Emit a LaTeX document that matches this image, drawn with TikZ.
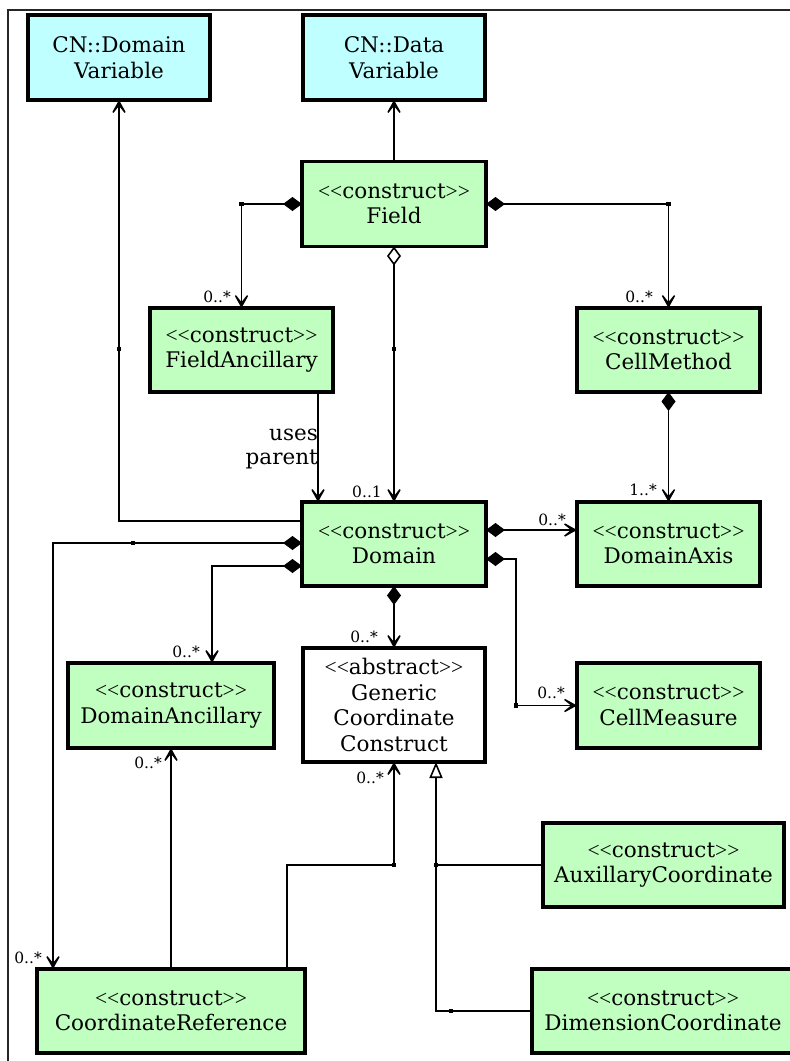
\documentclass[tikz,border=0pt]{standalone}
\usepackage{fontspec}
\setmainfont{DejaVu Serif}
\newfontfamily\ltfont{Liberation Serif}
\usetikzlibrary{arrows.meta}
\definecolor{cyanfill}{RGB}{192,255,255}
\definecolor{greenfill}{RGB}{192,255,192}
\newcommand{\stereo}[1]{{\ltfont<\kern0pt<}#1{\ltfont>\kern0pt>}}
\newcommand{\sqmark}[1]{\fill[black] #1 ++(-2.4,-2.4) rectangle ++(4.8,4.8);}
\tikzset{
  cls/.style={draw=black, line width=3.4pt, inner sep=0pt, outer sep=0pt, align=center,
    font=\fontsize{21.5}{25.5}\selectfont},
  cnbox/.style={cls, fill=cyanfill},
  grbox/.style={cls, fill=greenfill},
  abbox/.style={cls, fill=white},
  conn/.style={line width=1.6pt, black},
  arr/.style={conn, -{Stealth[length=19pt,width=21pt,inset=13pt,line width=1.4pt]}},
  comp/.style={conn, {Diamond[length=19pt,width=14pt]}-{Stealth[length=19pt,width=21pt,inset=13pt,line width=1.4pt]}},
  aggr/.style={conn, {Diamond[open,length=19pt,width=14pt]}-{Stealth[length=19pt,width=21pt,inset=13pt,line width=1.4pt]}},
  gen/.style={conn, -{Triangle[open,length=16pt,width=13pt]}},
  mult/.style={inner sep=0pt, font=\fontsize{15.5}{17}\selectfont, anchor=base east},
}
\begin{document}
\begin{tikzpicture}[x=1pt,y=-1pt]
\useasboundingbox (0,0) rectangle (790,1061);
\clip (0,0) rectangle (790,1061);
% frame
\draw[line width=1.2pt, black!85] (8,1065) -- (8,10) -- (795,10);

% classes
\node[cnbox, minimum width=182pt, minimum height=85pt] (dvar) at (119,57.5) {CN::Domain\\Variable};
\node[cnbox, minimum width=182pt, minimum height=85pt] (datavar) at (394,57.5) {CN::Data\\Variable};
\node[grbox, minimum width=184pt, minimum height=85pt] (field) at (394,204) {\stereo{construct}\\Field};
\node[grbox, minimum width=183pt, minimum height=84pt] (fanc) at (241.5,350) {\stereo{construct}\\FieldAncillary};
\node[grbox, minimum width=183pt, minimum height=84pt] (cmeth) at (668.5,350) {\stereo{construct}\\CellMethod};
\node[grbox, minimum width=184pt, minimum height=84pt] (domain) at (394,544) {\stereo{construct}\\Domain};
\node[grbox, minimum width=183pt, minimum height=84pt] (daxis) at (668.5,544) {\stereo{construct}\\DomainAxis};
\node[grbox, minimum width=206pt, minimum height=85pt] (danc) at (171,705.5) {\stereo{construct}\\DomainAncillary};
\node[abbox, minimum width=182pt, minimum height=114pt] (generic) at (394,705) {\stereo{abstract}\\Generic\\Coordinate\\Construct};
\node[grbox, minimum width=183pt, minimum height=85pt] (cmeas) at (668.5,705.5) {\stereo{construct}\\CellMeasure};
\node[grbox, minimum width=241pt, minimum height=84pt] (aux) at (663.5,865) {\stereo{construct}\\AuxillaryCoordinate};
\node[grbox, minimum width=268pt, minimum height=84pt] (cref) at (171,1011) {\stereo{construct}\\CoordinateReference};
\node[grbox, minimum width=262pt, minimum height=84pt] (dimc) at (663,1011) {\stereo{construct}\\DimensionCoordinate};

% helper coordinates
\coordinate (yS) at (0,349);
\coordinate (yA) at (0,521);
\coordinate (xU) at (318,0);
\coordinate (yB) at (0,530);
\coordinate (yC) at (0,559);
\coordinate (xC) at (516,0);
\coordinate (yD) at (0,543);
\coordinate (xD) at (53,0);
\coordinate (yE) at (0,566);
\coordinate (xE) at (212,0);
\coordinate (xG) at (287,0);
\coordinate (yG) at (0,865);
\coordinate (xH) at (436,0);
\coordinate (xQ) at (133,0);
\coordinate (xR) at (451,0);

% connectors
\draw[arr] (field.north) -- (datavar.south);
\draw[comp] (field.west) -| (fanc.north);
\draw[comp] (field.east) -| (cmeth.north);
\draw[aggr] (field.south) -- (domain.north);
\draw[arr] (domain.west |- yA) -| (dvar.south);
\draw[arr] (fanc.south -| xU) -- (domain.north -| xU);
\draw[comp] (domain.east |- yB) -- (daxis.west |- yB);
\draw[comp] (domain.east |- yC) -| (xC |- cmeas.west) -- (cmeas.west);
\draw[comp] (cmeth.south) -- (daxis.north);
\draw[comp] (domain.west |- yD) -| (cref.north -| xD);
\draw[comp] (domain.west |- yE) -| (danc.north -| xE);
\draw[comp] (domain.south) -- (generic.north);
\draw[arr] (danc.south |- cref.north) -- (danc.south);
\draw[arr] (cref.north -| xG) |- (generic.south |- yG) -- (generic.south);
\draw[gen] (dimc.west) -| (generic.south -| xH);
\draw[conn] (aux.west) -- (aux.west -| xH);

% junction marks
\sqmark{(fanc.north |- field.west)}
\sqmark{(cmeth.north |- field.east)}
\sqmark{(field.south |- yS)}
\sqmark{(dvar.south |- yS)}
\sqmark{(xC |- cmeas.west)}
\sqmark{(xQ |- yD)}
\sqmark{(generic.south |- yG)}
\sqmark{(xH |- aux.west)}
\sqmark{(xR |- dimc.west)}

% labels
\node[mult] (m1) at (231,302) {0..*};
\node[mult] (m2) at (653,302) {0..*};
\node[mult] (m3) at (382,497) {0..1};
\node[inner sep=0pt, align=right, anchor=east, font=\fontsize{21.5}{24}\selectfont] (up) at (318,449) {uses\\parent};
\node[mult] (m5) at (566,525) {0..*};
\node[mult] (m6) at (565,698) {0..*};
\node[mult] (m7) at (657,495) {1..*};
\node[mult] (m8) at (42,963) {0..*};
\node[mult] (m9) at (200,657) {0..*};
\node[mult] (m10) at (378,642) {0..*};
\node[mult] (m11) at (162,768) {0..*};
\node[mult] (m12) at (384,783) {0..*};
\end{tikzpicture}
\end{document}
